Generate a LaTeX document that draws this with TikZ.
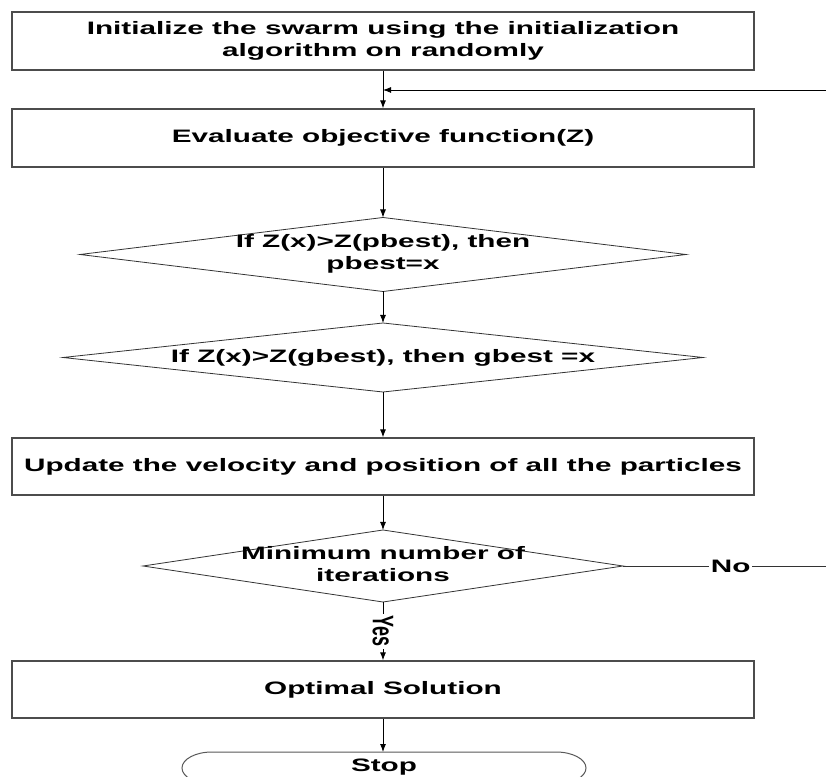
\documentclass[tikz,border=0pt]{standalone}
\usepackage{fontspec}
\setmainfont{Liberation Sans}[FakeStretch=1.65]
\newfontfamily\plainfont{Liberation Sans}
\usetikzlibrary{arrows.meta}
\begin{document}
\begin{tikzpicture}[x=1pt,y=1pt,
  txt/.style={font=\bfseries\fontsize{18}{22}\selectfont},
  box/.style={txt, draw=black!70, line width=1.3pt, minimum width=742pt, minimum height=57pt, inner sep=0pt, align=center},
  lbl/.style={txt, inner sep=0pt, align=center},
  dia/.style={draw=black!80, line width=0.8pt},
  term/.style={draw=black!65, line width=1pt},
  arr/.style={draw=black, line width=0.9pt, -{Latex[length=8pt,width=6pt]}},
  ln/.style={draw=black!80, line width=0.9pt}]
\useasboundingbox (0,0) rectangle (826,776);
\clip (0,0) rectangle (826,776);
\fill[white] (0,0) rectangle (826,776);

% boxes
\node[box, minimum height=58pt] (init) at (383,735) {Initialize the swarm using the initialization\\algorithm on randomly};
\node[box, minimum height=58pt] (eval) at (383,638) {Evaluate objective function(Z)};
\node[box] (upd) at (383,309.5) {Update the velocity and position of all the particles};
\node[box] (opt) at (383,86.5) {Optimal Solution};

% diamond 1
\coordinate (d1n) at (383,558.5);
\coordinate (d1s) at (383,484.5);
\coordinate (d1w) at (80,521.5);
\coordinate (d1e) at (686,521.5);
\draw[dia] (d1n) -- (d1e) -- (d1s) -- (d1w) -- cycle;
\node[lbl] (d1) at (383,522) {If Z(x)>Z(pbest), then\\pbest=x};

% diamond 2
\coordinate (d2n) at (383,453);
\coordinate (d2s) at (383,384);
\coordinate (d2w) at (63,418.5);
\coordinate (d2e) at (703,418.5);
\draw[dia] (d2n) -- (d2e) -- (d2s) -- (d2w) -- cycle;
\node[lbl] (d2) at (383,418.5) {If Z(x)>Z(gbest), then gbest =x};

% diamond 3
\coordinate (d3n) at (383,246);
\coordinate (d3s) at (383,174);
\coordinate (d3w) at (143,210);
\coordinate (d3e) at (623,210);
\draw[dia] (d3n) -- (d3e) -- (d3s) -- (d3w) -- cycle;
\node[lbl] (d3) at (383,212) {Minimum number of\\iterations};

% stop terminal
\draw[term] (212,24) -- (556,24) arc[start angle=90,end angle=-90,x radius=30,y radius=16]
  -- (212,-8) arc[start angle=270,end angle=90,x radius=30,y radius=16] -- cycle;
\node[lbl] (stop) at (384,9) {Stop};
\coordinate (stopn) at (383,24);

% connectors
\coordinate (fb) at (826,686);
\coordinate (j) at (383,686);
\coordinate (nr) at (826,210);
\draw[arr] (init.south) -- (eval.north);
\draw[arr] (fb) -- (j);
\draw[arr] (eval.south) -- (d1n);
\draw[arr] (d1s) -- (d2n);
\draw[arr] (d2s) -- (upd.north);
\draw[arr] (upd.south) -- (d3n);
\draw[arr] (d3s) -- node[fill=white, inner xsep=0pt, inner ysep=2pt] (yes) {\scalebox{1.65}[1]{\rotatebox{-90}{\plainfont\bfseries\fontsize{18}{22}\selectfont Yes}}} (opt.north);
\draw[arr] (opt.south) -- (stopn);
\draw[ln] (d3e) -- node[lbl, pos=0.53, fill=white, inner xsep=2pt, inner ysep=1pt] (no) {No} (nr);
\end{tikzpicture}
\end{document}
